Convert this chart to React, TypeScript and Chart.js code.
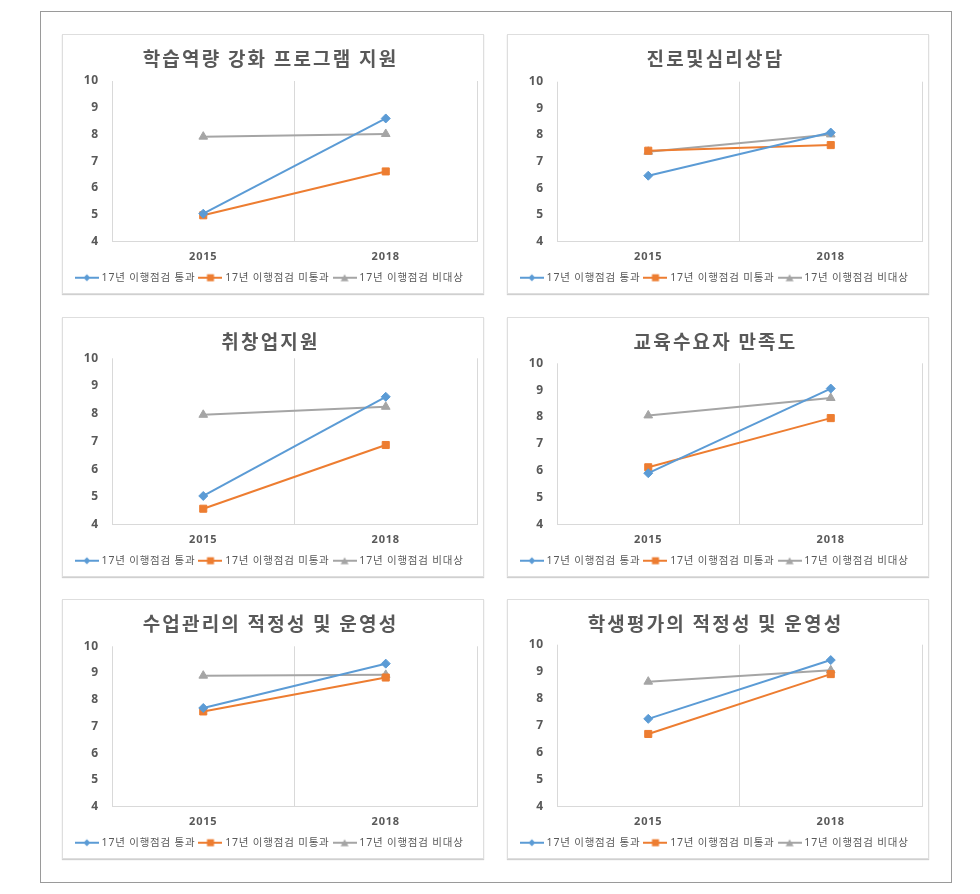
import React, { useEffect, useRef } from 'react';
import { Chart, registerables } from 'chart.js';

Chart.register(...registerables);

// ---------- data ----------
const categories = ['2015', '2018'];
const seriesNames = ['17년 이행점검 통과', '17년 이행점검 미통과', '17년 이행점검 비대상'];
const panelTitles = [
  '학습역량 강화 프로그램 지원',
  '진로및심리상담',
  '취창업지원',
  '교육수요자 만족도',
  '수업관리의 적정성 및 운영성',
  '학생평가의 적정성 및 운영성',
];
const passScores = [
  [5.04, 8.6],
  [6.47, 8.09],
  [5.03, 8.61],
  [5.91, 9.06],
  [7.69, 9.35],
  [7.25, 9.43],
];
const failScores = [
  [4.98, 6.62],
  [7.41, 7.62],
  [4.57, 6.87],
  [6.13, 7.96],
  [7.56, 8.83],
  [6.69, 8.91],
];
const exemptScores = [
  [7.92, 8.02],
  [7.37, 8.02],
  [7.96, 8.25],
  [8.06, 8.71],
  [8.9, 8.93],
  [8.63, 9.05],
];
const yMin = 4;
const yMax = 10;
const yStep = 1;

// ---------- style ----------
const COLORS = ['#5B9BD5', '#ED7D31', '#A5A5A5'];
const SHAPES = ['rectRot', 'rect', 'triangle'];
const RADII = [4.5, 5, 5];
const TEXT = '#595959';
const GRID = '#d9d9d9';
const FONT_LATIN = "'Noto Sans', 'Noto Sans CJK KR', sans-serif";
const FONT_KR = "'Noto Sans CJK KR', 'Noto Sans', sans-serif";
const TITLE_SIZE = 19;
const PANEL_POS = [
  [62, 34],
  [507, 34],
  [62, 317],
  [507, 317],
  [62, 599],
  [507, 599],
];
const TITLE_BOTTOM = [11.2, 11.9, 5.5, 10.5, 11.5, 9.9];

function makeLegendIcon(color: string, shape: string) {
  const c = document.createElement('canvas');
  c.width = 24;
  c.height = 10;
  const g = c.getContext('2d')!;
  g.strokeStyle = color;
  g.lineWidth = 2;
  g.beginPath();
  g.moveTo(0, 5);
  g.lineTo(24, 5);
  g.stroke();
  g.fillStyle = color;
  g.beginPath();
  if (shape === 'rectRot') {
    g.moveTo(12, 1.5);
    g.lineTo(15.5, 5);
    g.lineTo(12, 8.5);
    g.lineTo(8.5, 5);
  } else if (shape === 'rect') {
    g.rect(8.5, 1.5, 7, 7);
  } else {
    g.moveTo(12, 1.5);
    g.lineTo(16, 8.5);
    g.lineTo(8, 8.5);
  }
  g.closePath();
  g.fill();
  return c;
}

const spacingPlugin = {
  id: 'letterSpacingPatch',
  beforeInit(chart: any) {
    const ctx = chart.ctx as any;
    const fill = ctx.fillText.bind(ctx);
    const measure = ctx.measureText.bind(ctx);
    const setSpacing = () => {
      ctx.letterSpacing = String(ctx.font).includes(TITLE_SIZE + 'px') ? '2.2px' : '0.8px';
    };
    ctx.fillText = (t: string, x: number, y: number, mw?: number) => {
      setSpacing();
      if (mw === undefined) fill(t, x, y);
      else fill(t, x, y, mw);
    };
    ctx.measureText = (t: string) => {
      setSpacing();
      return measure(t);
    };
  },
};

function Panel({ index }: { index: number }) {
  const ref = useRef<HTMLCanvasElement>(null);
  useEffect(() => {
    const seriesData = [passScores[index], failScores[index], exemptScores[index]];
    const icons = COLORS.map((c, i) => makeLegendIcon(c, SHAPES[i]));
    const chart = new Chart(ref.current!, {
      type: 'line',
      data: {
        labels: categories,
        datasets: seriesNames.map((name, i) => ({
          label: name,
          data: seriesData[i],
          borderColor: COLORS[i],
          backgroundColor: COLORS[i],
          pointStyle: SHAPES[i] as any,
          pointRadius: RADII[i],
          pointHoverRadius: RADII[i],
          pointBorderWidth: 1,
          borderWidth: 2,
          tension: 0,
        })),
      },
      options: {
        responsive: false,
        animation: false,
        devicePixelRatio: 1,
        layout: { padding: { left: 0, right: 5, top: 0, bottom: 0 } },
        plugins: {
          title: {
            display: true,
            text: panelTitles[index],
            color: TEXT,
            font: { family: FONT_KR, size: TITLE_SIZE, weight: 'bold' },
            padding: { top: 12, bottom: TITLE_BOTTOM[index] },
          },
          legend: {
            position: 'bottom',
            labels: {
              usePointStyle: true,
              pointStyleWidth: 19,
              padding: 5.5,
              color: TEXT,
              font: { family: FONT_LATIN, size: 10.5 },
              generateLabels: (ch: any) => {
                const items = Chart.defaults.plugins.legend.labels.generateLabels(ch);
                return items.map((it: any, i: number) => ({ ...it, pointStyle: icons[i] }));
              },
            },
          },
          tooltip: { enabled: false },
        },
        scales: {
          x: {
            offset: true,
            grid: { offset: true, color: GRID, lineWidth: 1, drawTicks: false },
            border: { color: GRID },
            ticks: { color: TEXT, font: { family: FONT_LATIN, size: 11, weight: 'bold' }, padding: 9 },
            afterFit: (s: any) => {
              s.height = 25.5;
            },
          },
          y: {
            min: yMin,
            max: yMax,
            ticks: { stepSize: yStep, color: TEXT, font: { family: FONT_LATIN, size: 12, weight: 'bold' }, padding: 13 },
            grid: { display: false, drawTicks: false },
            border: { display: false },
            afterFit: (s: any) => {
              s.width = 49;
            },
          },
        },
      },
      plugins: [spacingPlugin],
    } as any);
    return () => chart.destroy();
  }, [index]);
  const [left, top] = PANEL_POS[index];
  return (
    <div
      style={{
        position: 'absolute',
        left,
        top,
        width: 422,
        height: 260,
        boxSizing: 'border-box',
        border: '1px solid #dedede',
        boxShadow: '0 1px 1px #d0d0d0',
        background: '#fff',
      }}
    >
      <canvas ref={ref} width={420} height={258} style={{ display: 'block' }} />
    </div>
  );
}

export default function App() {
  return (
    <div style={{ position: 'absolute', left: 0, top: 0, width: 980, height: 894, background: '#fff' }}>
      <div
        style={{
          position: 'absolute',
          left: 40,
          top: 11,
          width: 912,
          height: 872,
          boxSizing: 'border-box',
          border: '1px solid #9a9a9a',
        }}
      />
      {panelTitles.map((_, i) => (
        <Panel key={i} index={i} />
      ))}
    </div>
  );
}
